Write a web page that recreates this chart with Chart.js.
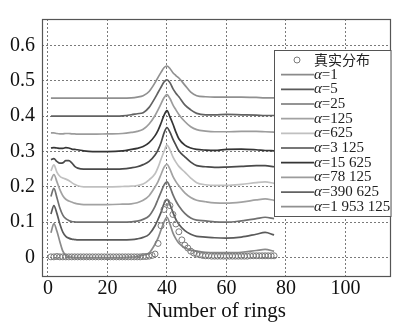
<!DOCTYPE html>
<html>
<head>
<meta charset="utf-8">
<script src="https://cdn.jsdelivr.net/npm/chart.js@4/dist/chart.umd.min.js"></script>
<style>
html, body { margin: 0; padding: 0; background: #fff; }
#wrap { width: 396px; height: 324px; }
</style>
</head>
<body>
<div id="wrap"><canvas id="grafico"></canvas></div>
<script>
'use strict';

// anillos donde se leyeron las curvas
const ANILLOS = [1, 2, 3, 4, 5, 6, 7, 8, 9, 10, 12, 15, 20, 25, 28, 30, 32, 34, 36,
    37, 38, 39, 40, 41, 42, 43, 44, 46, 48, 50, 53, 56, 60, 65, 70, 73, 76];

const ALFA_1 = [0.070, 0.096, 0.075, 0.045, 0.018, 0.006, 0.002, 0.001, 0.000, 0.000,
    0.000, 0.000, 0.000, 0.000, 0.001, 0.003, 0.007, 0.013, 0.038,
    0.055, 0.078, 0.100, 0.114, 0.095, 0.070, 0.053, 0.041,
    0.028, 0.021, 0.018, 0.015, 0.014, 0.014, 0.015, 0.020, 0.023, 0.018];
const ALFA_5 = [0.123, 0.147, 0.125, 0.095, 0.072, 0.060, 0.055, 0.052, 0.051, 0.050,
    0.050, 0.050, 0.050, 0.050, 0.051, 0.053, 0.057, 0.066, 0.090,
    0.108, 0.128, 0.152, 0.165, 0.150, 0.128, 0.108, 0.094,
    0.076, 0.066, 0.060, 0.058, 0.056, 0.055, 0.058, 0.066, 0.071, 0.064];
const ALFA_25 = [0.173, 0.196, 0.170, 0.140, 0.120, 0.110, 0.105, 0.102, 0.101, 0.100,
    0.100, 0.100, 0.100, 0.100, 0.101, 0.103, 0.108, 0.118, 0.145,
    0.165, 0.185, 0.205, 0.214, 0.200, 0.178, 0.160, 0.146,
    0.125, 0.112, 0.106, 0.104, 0.101, 0.100, 0.104, 0.110, 0.114, 0.110];
const ALFA_125 = [0.218, 0.235, 0.215, 0.192, 0.175, 0.165, 0.160, 0.157, 0.154, 0.152,
    0.150, 0.150, 0.150, 0.151, 0.152, 0.155, 0.162, 0.175, 0.200,
    0.215, 0.235, 0.255, 0.264, 0.250, 0.230, 0.215, 0.203,
    0.183, 0.170, 0.162, 0.158, 0.155, 0.154, 0.157, 0.163, 0.166, 0.162];
const ALFA_625 = [0.245, 0.262, 0.242, 0.230, 0.225, 0.222, 0.218, 0.212, 0.207, 0.203,
    0.200, 0.200, 0.200, 0.201, 0.202, 0.204, 0.208, 0.220, 0.237,
    0.255, 0.278, 0.300, 0.318, 0.305, 0.285, 0.270, 0.258,
    0.242, 0.225, 0.212, 0.206, 0.204, 0.204, 0.207, 0.212, 0.214, 0.210];
const ALFA_3125 = [0.277, 0.280, 0.272, 0.267, 0.268, 0.274, 0.274, 0.268, 0.258, 0.253,
    0.250, 0.250, 0.250, 0.251, 0.254, 0.257, 0.263, 0.272, 0.290,
    0.305, 0.325, 0.352, 0.368, 0.355, 0.335, 0.318, 0.302,
    0.285, 0.270, 0.260, 0.257, 0.255, 0.256, 0.258, 0.260, 0.260, 0.257];
const ALFA_15625 = [0.310, 0.311, 0.310, 0.309, 0.309, 0.311, 0.310, 0.307, 0.306, 0.305,
    0.302, 0.300, 0.300, 0.302, 0.306, 0.309, 0.314, 0.325, 0.345,
    0.360, 0.380, 0.402, 0.416, 0.398, 0.378, 0.355, 0.336,
    0.318, 0.310, 0.306, 0.304, 0.303, 0.306, 0.307, 0.305, 0.303, 0.302];
const ALFA_78125 = [0.353, 0.353, 0.351, 0.350, 0.350, 0.351, 0.351, 0.350, 0.350, 0.349,
    0.349, 0.349, 0.350, 0.351, 0.354, 0.357, 0.363, 0.378, 0.402,
    0.418, 0.435, 0.452, 0.461, 0.450, 0.432, 0.418, 0.405,
    0.385, 0.370, 0.362, 0.358, 0.356, 0.356, 0.357, 0.357, 0.356, 0.355];
const ALFA_390625 = [0.400, 0.400, 0.400, 0.400, 0.400, 0.400, 0.400, 0.400, 0.400, 0.400,
    0.400, 0.400, 0.400, 0.401, 0.404, 0.407, 0.410, 0.425, 0.452,
    0.467, 0.482, 0.497, 0.503, 0.495, 0.478, 0.465, 0.455,
    0.432, 0.418, 0.408, 0.404, 0.404, 0.405, 0.404, 0.403, 0.402, 0.402];
const ALFA_1953125 = [0.451, 0.451, 0.451, 0.451, 0.451, 0.451, 0.451, 0.451, 0.451, 0.451,
    0.451, 0.451, 0.451, 0.451, 0.452, 0.454, 0.458, 0.470, 0.495,
    0.510, 0.524, 0.537, 0.542, 0.535, 0.523, 0.515, 0.508,
    0.488, 0.468, 0.458, 0.455, 0.454, 0.454, 0.454, 0.453, 0.452, 0.452];

// distribución real (círculos)
const ANILLOS_REAL = [1, 2, 3, 4, 5, 6, 7, 8, 9, 10, 11, 12, 13, 14, 15, 16, 17, 18, 19, 20,
    21, 22, 23, 24, 25, 26, 27, 28, 29, 30, 31, 32, 33, 34, 35, 36, 37, 38, 39, 40,
    41, 42, 43, 44, 45, 46, 47, 48, 49, 50, 51, 52, 53, 54, 55, 56, 57, 58, 59, 60,
    61, 62, 63, 64, 65, 66, 67, 68, 69, 70, 71, 72, 73, 74, 75, 76];
const DIST_REAL = [0.002, 0.002, 0.003, 0.002, 0.002, 0.002, 0.002, 0.002, 0.002, 0.002,
    0.002, 0.002, 0.002, 0.002, 0.002, 0.002, 0.002, 0.002, 0.002, 0.002,
    0.002, 0.002, 0.002, 0.002, 0.002, 0.002, 0.002, 0.002, 0.002, 0.002,
    0.002, 0.003, 0.003, 0.004, 0.006, 0.010, 0.040, 0.090, 0.136, 0.156,
    0.147, 0.122, 0.095, 0.073, 0.050, 0.035, 0.027, 0.018, 0.013, 0.010,
    0.008, 0.006, 0.005, 0.005, 0.004, 0.004, 0.004, 0.004, 0.004, 0.004,
    0.004, 0.004, 0.004, 0.004, 0.004, 0.004, 0.004, 0.005, 0.005, 0.005,
    0.005, 0.005, 0.005, 0.005, 0.005, 0.005];

const TICKS_X = [0, 20, 40, 60, 80, 100];
const TICKS_Y = [0, 0.1, 0.2, 0.3, 0.4, 0.5, 0.6];

const ETIQUETA_REAL = '真实分布';
const ALFAS = ['1', '5', '25', '125', '625', '3 125', '15 625', '78 125', '390 625', '1 953 125'];
const CURVAS = [ALFA_1, ALFA_5, ALFA_25, ALFA_125, ALFA_625, ALFA_3125, ALFA_15625, ALFA_78125, ALFA_390625, ALFA_1953125];
const GRISES = ['#8a8a8a', '#5a5a5a', '#707070', '#a2a2a2', '#c0c0c0', '#4a4a4a', '#353535', '#9c9c9c', '#626262', '#909090'];

const SERIF = "'Liberation Serif', 'Times New Roman', serif";

const aPuntos = (xs, ys) => xs.map((x, i) => ({ x, y: ys[i] }));

const datasets = [
    {
        label: ETIQUETA_REAL,
        data: aPuntos(ANILLOS_REAL, DIST_REAL),
        showLine: false,
        pointRadius: 3,
        pointBorderWidth: 1,
        pointBorderColor: '#7a7a7a',
        pointBackgroundColor: 'rgba(255,255,255,0)',
    },
    ...CURVAS.map((c, i) => ({
        label: `α=${ALFAS[i]}`,
        data: aPuntos(ANILLOS, c),
        showLine: true,
        borderColor: GRISES[i],
        borderWidth: 1.7,
        pointRadius: 0,
        cubicInterpolationMode: 'monotone',
        fill: false,
    })),
];

// leyenda dibujada a mano (α en cursiva)
const leyenda = {
    id: 'leyenda',
    afterDraw(chart) {
        const ctx = chart.ctx;
        const a = chart.chartArea;
        const x0 = 274.5, y0 = 50.5, x1 = a.right, y1 = 216.5;
        const paso = 14.67;
        ctx.save();
        ctx.fillStyle = '#fff';
        ctx.fillRect(x0, y0, x1 - x0, y1 - y0);
        ctx.strokeStyle = '#555';
        ctx.lineWidth = 1;
        ctx.strokeRect(x0, y0, x1 - x0, y1 - y0);
        ctx.textBaseline = 'middle';

        let y = 60;
        ctx.beginPath();
        ctx.arc(297, y, 3, 0, Math.PI * 2);
        ctx.strokeStyle = '#7a7a7a';
        ctx.stroke();
        ctx.fillStyle = '#222';
        ctx.font = "14px 'Noto Sans CJK SC'";
        ctx.fillText(ETIQUETA_REAL, 314, y);

        ALFAS.forEach((al, i) => {
            y = 60 + (i + 1) * paso;
            ctx.beginPath();
            ctx.moveTo(281, y);
            ctx.lineTo(314, y);
            ctx.strokeStyle = GRISES[i];
            ctx.lineWidth = 1.7;
            ctx.stroke();
            ctx.fillStyle = '#222';
            ctx.font = `italic 15px ${SERIF}`;
            ctx.fillText('α', 314, y);
            const w = ctx.measureText('α').width;
            ctx.font = `15px ${SERIF}`;
            ctx.fillText(`=${al}`, 314 + w, y);
        });
        ctx.restore();
    },
};

// marco completo del área de trazado
const marco = {
    id: 'marco',
    afterDatasetsDraw(chart) {
        const { ctx, chartArea: a } = chart;
        ctx.save();
        ctx.strokeStyle = '#555';
        ctx.lineWidth = 1.2;
        ctx.strokeRect(a.left + 0.5, a.top + 0.5, a.right - a.left - 1, a.bottom - a.top - 1);
        ctx.restore();
    },
};

new Chart(document.getElementById('grafico'), {
    type: 'scatter',
    data: { datasets },
    options: {
        responsive: true,
        maintainAspectRatio: false,
        animation: false,
        layout: { padding: { top: 9, right: 2, left: 0, bottom: 0 } },
        plugins: { legend: { display: false }, tooltip: { enabled: false } },
        scales: {
            x: {
                type: 'linear',
                min: -2,
                max: 115.3,
                afterBuildTicks: (s) => { s.ticks = TICKS_X.map((v) => ({ value: v })); },
                afterFit: (s) => { s.height = 47; },
                grid: { color: '#7a7a7a', lineWidth: 1, drawTicks: false },
                border: { display: false, dash: [2, 2] },
                ticks: { color: '#111', font: { family: SERIF, size: 20 }, padding: 0, maxRotation: 0 },
                title: {
                    display: true,
                    text: 'Number of rings',
                    color: '#111',
                    font: { family: SERIF, size: 21 },
                    padding: { top: 0, bottom: 0 },
                },
            },
            y: {
                type: 'linear',
                min: -0.055,
                max: 0.675,
                afterBuildTicks: (s) => { s.ticks = TICKS_Y.map((v) => ({ value: v })); },
                afterFit: (s) => { s.width = 42; },
                grid: { color: '#7a7a7a', lineWidth: 1, drawTicks: false },
                border: { display: false, dash: [2, 2] },
                ticks: {
                    color: '#111',
                    font: { family: SERIF, size: 20 },
                    padding: 7,
                    callback: (v) => String(v),
                },
            },
        },
    },
    plugins: [marco, leyenda],
});
</script>
</body>
</html>
